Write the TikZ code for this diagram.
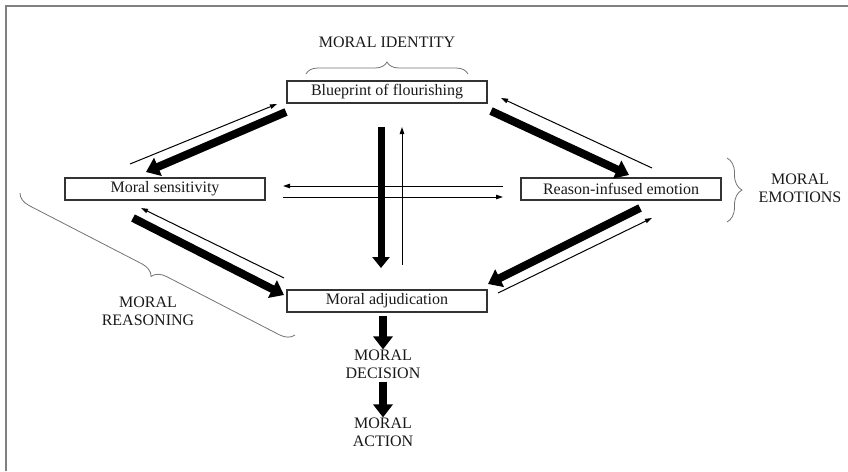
\documentclass[tikz,border=0pt]{standalone}
\usepackage{fontspec}
\setmainfont{Liberation Serif}
\usetikzlibrary{arrows.meta,decorations.pathreplacing}
\begin{document}
\begin{tikzpicture}[x=1pt,y=-1pt,
  box/.style={draw=black!80,line width=1.1pt,minimum width=200pt,minimum height=22pt,inner sep=0pt,font=\fontsize{16}{18}\selectfont,text=black!90},
  lbl/.style={align=center,inner sep=0pt,font=\fontsize{16}{18}\selectfont,text=black!90},
  bigarrow/.style={line width=8pt,-{Triangle[length=13pt,width=19pt]}},
  midarrow/.style={line width=7pt,-{Triangle[length=11pt,width=17pt]}},
  thinarrow/.style={line width=1pt,-{Triangle[length=7pt,width=4.5pt]}},
  brc/.style={draw=black!55,line width=0.8pt,decorate}
]
\useasboundingbox (0,0) rectangle (848,471);
% frame edges
\draw[black!50,line width=1.5pt] (6,471) -- (6,6) -- (848,6);

% boxes
\node[box] (bp) at (387,92) {Blueprint of flourishing};
\node[box] (ms) at (165,189) {Moral sensitivity};
\node[box] (re) at (621,189) {Reason-infused emotion};
\node[box] (ma) at (387,301) {Moral adjudication};

% labels
\node[lbl] (mid) at (387,42) {MORAL IDENTITY};
\node[lbl] (mem) at (800,188) {MORAL\\EMOTIONS};
\node[lbl] (mrs) at (148,311) {MORAL\\REASONING};
\node[lbl] (mdc) at (383,364) {MORAL\\DECISION};
\node[lbl] (mac) at (383,432) {MORAL\\ACTION};

% braces
\coordinate (b1s) at (306,74); \coordinate (b1e) at (468,74);
\draw[brc,decoration={brace,amplitude=12pt}] (b1s) -- (b1e);
\coordinate (b2s) at (727,158); \coordinate (b2e) at (727,222);
\draw[brc,decoration={brace,amplitude=15pt}] (b2s) -- (b2e);
\coordinate (b3s) at (20,193); \coordinate (b3e) at (295,335);
\draw[brc,decoration={brace,mirror,amplitude=14pt}] (b3s) -- (b3e);

% upper-left pair
\coordinate (ul1) at (286,112); \coordinate (ul2) at (146,172);
\draw[bigarrow] (ul1) -- (ul2);
\coordinate (ul3) at (130,164); \coordinate (ul4) at (277,104);
\draw[thinarrow] (ul3) -- (ul4);

% upper-right pair
\coordinate (ur1) at (491,111); \coordinate (ur2) at (629,175);
\draw[bigarrow] (ur1) -- (ur2);
\coordinate (ur3) at (652,168); \coordinate (ur4) at (501,98);
\draw[thinarrow] (ur3) -- (ur4);

% lower-left pair
\coordinate (ll1) at (133,218); \coordinate (ll2) at (284,295);
\draw[bigarrow] (ll1) -- (ll2);
\coordinate (ll3) at (284,278); \coordinate (ll4) at (141,208);
\draw[thinarrow] (ll3) -- (ll4);

% lower-right pair
\coordinate (lr1) at (640,208); \coordinate (lr2) at (488,284);
\draw[bigarrow] (lr1) -- (lr2);
\coordinate (lr3) at (498,293); \coordinate (lr4) at (652,218);
\draw[thinarrow] (lr3) -- (lr4);

% central vertical pair
\coordinate (cv1) at (381,127); \coordinate (cv2) at (381,268);
\draw[midarrow] (cv1) -- (cv2);
\coordinate (cv3) at (402,265); \coordinate (cv4) at (402,127);
\draw[thinarrow] (cv3) -- (cv4);

% central horizontal pair
\coordinate (ch1) at (503,186); \coordinate (ch2) at (283,186);
\draw[thinarrow] (ch1) -- (ch2);
\coordinate (ch3) at (283,197); \coordinate (ch4) at (503,197);
\draw[thinarrow] (ch3) -- (ch4);

% outputs
\draw[bigarrow] (ma.south -| mdc) ++(0,3) -- (mdc.north);
\draw[bigarrow] (mdc.south) ++(0,3) -- (mac.north);
\end{tikzpicture}
\end{document}
